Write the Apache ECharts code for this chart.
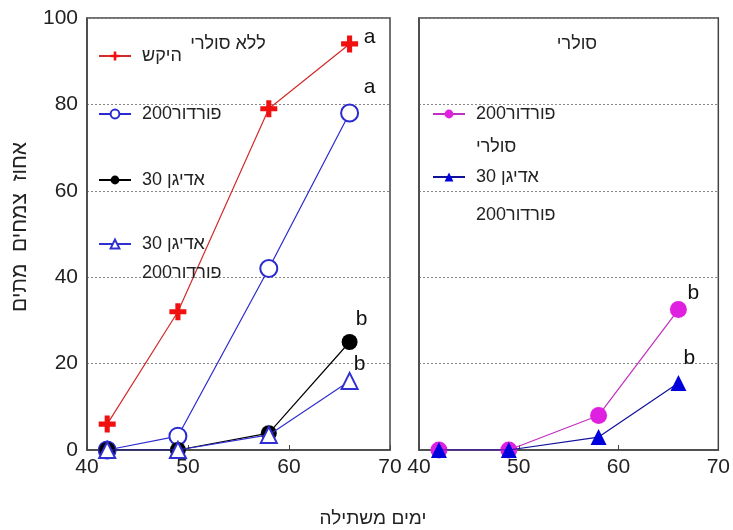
<!DOCTYPE html>
<html><head><meta charset="utf-8">
<script src="https://cdn.jsdelivr.net/npm/echarts@6/dist/echarts.min.js"></script>
<style>html,body{margin:0;padding:0;background:#fff}#c{width:733px;height:530px}</style>
</head><body><div id="c"></div>
<script>
// ---- data ----
const days = [42, 49, 58, 66];
const xTicks = [40, 50, 60, 70];
const yTicks = [0, 20, 40, 60, 80, 100];
const leftTitle = 'ללא סולרי';
const rightTitle = 'סולרי';
const xTitle = 'ימים משתילה';
const yTitle = 'אחוז  צמחים  מתים';

const control = [6, 32, 79, 94];
const fordor = [0, 3.2, 42, 78];
const adigan = [0, 0, 3.9, 25];
const adiganFordor = [0, 0, 3.5, 16];
const solarFordor = [0, 0, 8, 32.5];
const solarAdiganFordor = [0, 0, 3, 15.5];

const seriesNames = ['control', 'fordor', 'adigan', 'adiganFordor', 'solarFordor', 'solarAdiganFordor'];
const legendLabels = ['היקש', 'פורדור200', 'אדיגן 30', 'אדיגן 30\nפורדור200', 'פורדור200\nסולרי', 'אדיגן 30\nפורדור200'];
const letters = ['a', 'a', 'b', 'b', 'b', 'b'];

// ---- styling ----
const FONT = 'Liberation Sans, Arial, sans-serif';
const plus = 'path://M3.5,0h3v3.5h3.5v3h-3.5v3.5h-3v-3.5h-3.5v-3h3.5z';
const styles = [
  {grid: 0, symbol: plus, size: 17, color: '#f01010', line: '#d42a2a', off: [20, -7]},
  {grid: 0, symbol: 'emptyCircle', size: 17, color: '#2a2ad0', line: '#2a2ad0', off: [20, -26]},
  {grid: 0, symbol: 'circle', size: 16, color: '#000000', line: '#000000', off: [12, -23]},
  {grid: 0, symbol: 'emptyTriangle', size: 16, color: '#3030d0', line: '#3030d0', off: [10, -17]},
  {grid: 1, symbol: 'circle', size: 17, color: '#e020e0', line: '#c030c0', off: [15, -16]},
  {grid: 1, symbol: 'triangle', size: 16, color: '#0000dd', line: '#10109a', off: [11, -25]}
];
const values = [control, fordor, adigan, adiganFordor, solarFordor, solarAdiganFordor];

const series = values.map((vals, i) => {
  const s = styles[i];
  return {
    type: 'line',
    name: seriesNames[i],
    xAxisIndex: s.grid, yAxisIndex: s.grid,
    symbol: s.symbol, symbolSize: s.size,
    lineStyle: {color: s.line, width: 1.2},
    itemStyle: {color: s.color, borderWidth: 1.5},
    emphasis: {disabled: true},
    data: vals.map((v, j) => {
      const item = {value: [days[j], v]};
      if (j === vals.length - 1) {
        item.label = {show: true, formatter: letters[i], position: 'inside', offset: s.off,
          fontSize: 21, color: '#111', fontFamily: FONT};
      }
      return item;
    }),
    z: 3 + i
  };
});

const legendPos = [
  {left: 98, c: 56, two: false},
  {left: 98, c: 114, two: false},
  {left: 98, c: 180, two: false},
  {left: 98, c: 244, two: true, L: 29},
  {left: 432, c: 114, two: true, L: 33},
  {left: 432, c: 177, two: true, L: 38}
];
const legends = legendPos.map((p, i) => {
  const L = p.L || 22;
  return {
    data: [seriesNames[i]],
    left: p.left,
    top: p.two ? p.c - 1.5 * L : p.c - L / 2,
    padding: 0,
    itemWidth: 32, itemHeight: 11,
    selectedMode: false,
    formatter: () => (p.two ? '\n' : '') + legendLabels[i],
    textStyle: {fontSize: 18, color: '#222', fontFamily: FONT, lineHeight: L, padding: [0, 0, 0, 6]}
  };
});

function xAxis(g) {
  return {
    type: 'value', gridIndex: g, min: xTicks[0], max: xTicks[xTicks.length - 1], interval: 10,
    axisLine: {show: true, lineStyle: {color: '#444', width: 1.5}},
    axisTick: {show: true, inside: true, length: 5, lineStyle: {color: '#444'}},
    axisLabel: {fontSize: 21, color: '#222', margin: 7, fontFamily: FONT},
    splitLine: {show: false}
  };
}
function yAxis(g) {
  return {
    type: 'value', gridIndex: g, min: yTicks[0], max: yTicks[yTicks.length - 1], interval: 20,
    axisLine: {show: true, lineStyle: {color: '#444', width: 1.5}},
    axisTick: {show: false},
    axisLabel: {show: g === 0, fontSize: 21, color: '#222', margin: 9, fontFamily: FONT},
    splitLine: {show: true, lineStyle: {color: '#888', type: [2, 2], width: 1}}
  };
}

const chart = echarts.init(document.getElementById('c'), null, {renderer: 'canvas'});
chart.setOption({
  animation: false,
  backgroundColor: '#fff',
  textStyle: {fontFamily: FONT},
  grid: [
    {left: 87, top: 18, width: 303, height: 432, show: true, borderColor: '#444', borderWidth: 1.5, backgroundColor: 'transparent'},
    {left: 419, top: 18, width: 303, height: 432, show: true, borderColor: '#444', borderWidth: 1.5, backgroundColor: 'transparent'}
  ],
  xAxis: [xAxis(0), xAxis(1)],
  yAxis: [yAxis(0), yAxis(1)],
  title: [
    {text: leftTitle, left: 223, top: 30, textAlign: 'center', textStyle: {fontSize: 18, fontWeight: 'normal', color: '#222', fontFamily: FONT}},
    {text: rightTitle, left: 572, top: 30, textAlign: 'center', textStyle: {fontSize: 18, fontWeight: 'normal', color: '#222', fontFamily: FONT}}
  ],
  legend: legends,
  graphic: [
    {type: 'text', x: 373, y: 519, style: {text: xTitle, font: '19px ' + FONT, fill: '#222', textAlign: 'center', textVerticalAlign: 'middle'}},
    {type: 'text', x: 20, y: 227, rotation: Math.PI / 2, style: {text: yTitle, font: '21px ' + FONT, fill: '#222', textAlign: 'center', textVerticalAlign: 'middle'}}
  ],
  series: series
});
</script>
</body></html>
